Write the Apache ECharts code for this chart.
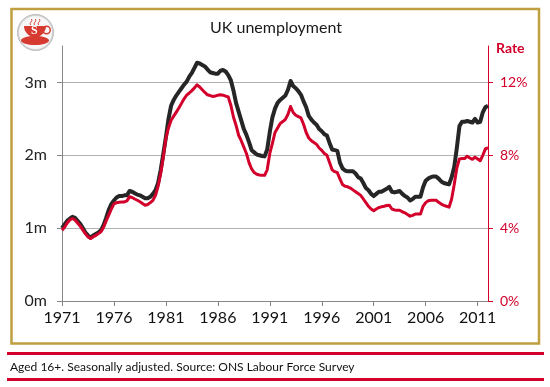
<!DOCTYPE html>
<html>
<head>
<meta charset="utf-8">
<title>UK unemployment</title>
<script src="https://cdn.jsdelivr.net/npm/echarts@6/dist/echarts.min.js"></script>
<style>
    html, body { margin: 0; padding: 0; background: #fff; }
    #chart { width: 550px; height: 387px; }
</style>
</head>
<body>
<div id="chart"></div>
<script>
// quarterly, one row per year, last value is the start of 2012
var unemployed = [
    1.00, 1.05, 1.10, 1.13,
    1.155, 1.14, 1.10, 1.06,
    1.00, 0.94, 0.90, 0.87,
    0.90, 0.92, 0.94, 0.97,
    1.04, 1.14, 1.25, 1.33,
    1.38, 1.42, 1.44, 1.44,
    1.45, 1.45, 1.51, 1.50,
    1.48, 1.46, 1.45, 1.43,
    1.41, 1.41, 1.43, 1.47,
    1.52, 1.62, 1.80, 2.02,
    2.25, 2.50, 2.68, 2.76,
    2.82, 2.87, 2.92, 2.97,
    3.01, 3.08, 3.13, 3.20,
    3.27, 3.26, 3.24, 3.22,
    3.18, 3.14, 3.13, 3.12,
    3.12, 3.16, 3.17, 3.15,
    3.10, 3.03, 2.89, 2.72,
    2.60, 2.48, 2.36, 2.28,
    2.18, 2.07, 2.04, 2.01,
    2.00, 1.99, 1.985, 2.08,
    2.32, 2.52, 2.64, 2.72,
    2.76, 2.79, 2.82, 2.90,
    3.02, 2.95, 2.92, 2.88,
    2.83, 2.74, 2.66, 2.54,
    2.49, 2.45, 2.42, 2.36,
    2.33, 2.29, 2.27, 2.17,
    2.08, 2.07, 2.06, 1.90,
    1.82, 1.79, 1.78, 1.78,
    1.78, 1.75, 1.70, 1.68,
    1.62, 1.55, 1.52, 1.47,
    1.44, 1.47, 1.50, 1.50,
    1.52, 1.54, 1.565, 1.50,
    1.49, 1.50, 1.51, 1.47,
    1.44, 1.42, 1.38, 1.40,
    1.43, 1.43, 1.43, 1.56,
    1.65, 1.68, 1.70, 1.71,
    1.71, 1.68, 1.64, 1.62,
    1.61, 1.60, 1.70, 1.84,
    2.10, 2.40, 2.46, 2.46,
    2.47, 2.46, 2.45, 2.50,
    2.45, 2.46, 2.59, 2.66,
    2.68
];
var rate = [
    3.89, 4.05, 4.28, 4.45,
    4.53, 4.45, 4.28, 4.11,
    3.90, 3.70, 3.52, 3.43,
    3.52, 3.60, 3.70, 3.80,
    4.05, 4.40, 4.71, 5.05,
    5.33, 5.40, 5.42, 5.43,
    5.44, 5.50, 5.72, 5.68,
    5.60, 5.53, 5.45, 5.35,
    5.26, 5.30, 5.40, 5.53,
    5.80, 6.30, 7.00, 7.90,
    8.93, 9.50, 9.92, 10.15,
    10.37, 10.60, 10.85, 11.10,
    11.30, 11.42, 11.55, 11.70,
    11.87, 11.75, 11.60, 11.45,
    11.32, 11.28, 11.23, 11.25,
    11.30, 11.32, 11.30, 11.25,
    11.20, 10.75, 10.10, 9.65,
    9.10, 8.80, 8.45, 8.10,
    7.60, 7.25, 7.05, 6.96,
    6.92, 6.90, 6.90, 7.20,
    8.10, 8.66, 9.25, 9.50,
    9.75, 9.85, 9.97, 10.25,
    10.68, 10.35, 10.20, 10.12,
    10.05, 9.70, 9.25, 8.95,
    8.80, 8.70, 8.60, 8.40,
    8.27, 8.10, 8.00, 7.60,
    7.20, 7.10, 7.05, 6.70,
    6.39, 6.30, 6.27, 6.20,
    6.10, 6.00, 5.90, 5.80,
    5.60, 5.40, 5.20, 5.05,
    4.95, 5.05, 5.13, 5.17,
    5.20, 5.24, 5.26, 5.05,
    5.00, 4.98, 4.98, 4.90,
    4.84, 4.75, 4.66, 4.70,
    4.77, 4.77, 4.77, 5.20,
    5.40, 5.50, 5.53, 5.53,
    5.53, 5.42, 5.32, 5.25,
    5.20, 5.15, 5.60, 6.40,
    7.30, 7.80, 7.82, 7.82,
    7.95, 7.85, 7.78, 7.90,
    7.80, 7.70, 8.00, 8.35,
    8.42
];
var startYear = 1971;
var countTicks = [0, 1, 2, 3];
var rateTicks = [0, 4, 8, 12];
var chartTitle = 'UK unemployment';
var rateTitle = 'Rate';
var footNote = 'Aged 16+. Seasonally adjusted. Source: ONS Labour Force Survey';

var quarters = [];
for (var i = 0; i < unemployed.length; i++) {
    quarters.push((startYear + Math.floor(i / 4)) + ' Q' + (i % 4 + 1));
}

var RED = '#d2002a';
var CUP = '#d63a30';
var GOLD = '#bf9f3f';
var FONT = 'Lato';

function steam(x) {
    return {
        type: 'bezierCurve',
        shape: {x1: x, y1: 25, x2: x, y2: 19, cpx1: x - 3, cpy1: 23, cpx2: x + 3, cpy2: 21},
        style: {fill: 'none', stroke: CUP, lineWidth: 1}
    };
}

var myChart = echarts.init(document.getElementById('chart'), null, {renderer: 'canvas'});
var option = {
    animation: false,
    backgroundColor: '#fff',
    textStyle: {fontFamily: FONT},
    title: {
        text: chartTitle,
        left: 271,
        top: 15,
        textAlign: 'center',
        textStyle: {fontFamily: FONT, fontSize: 16, fontWeight: 'normal', color: '#1a1a1a'}
    },
    grid: {left: 62, right: 62, top: 46, bottom: 86},
    xAxis: {
        type: 'category',
        data: quarters,
        boundaryGap: false,
        axisLine: {lineStyle: {color: '#868686', width: 1}},
        axisTick: {interval: 19, length: 5, lineStyle: {color: '#868686'}},
        axisLabel: {
            interval: 19,
            margin: 9,
            fontFamily: FONT,
            fontSize: 16,
            color: '#111',
            formatter: function (value) { return value.slice(0, 4); }
        },
        splitLine: {show: false}
    },
    yAxis: [
        {
            type: 'value',
            min: 0,
            max: 3.5,
            interval: 0.5,
            axisLine: {show: true, lineStyle: {color: '#868686', width: 1}},
            axisTick: {show: true, customValues: countTicks, length: 5, lineStyle: {color: '#868686'}},
            axisLabel: {
                customValues: countTicks,
                margin: 15,
                fontFamily: FONT,
                fontSize: 16,
                color: '#222',
                formatter: '{value}m'
            },
            splitLine: {show: true, lineStyle: {color: '#b2b2b2', width: 1}}
        },
        {
            type: 'value',
            min: 0,
            max: 14,
            interval: 2,
            position: 'right',
            name: rateTitle,
            nameGap: -2,
            nameTextStyle: {
                color: RED,
                fontFamily: FONT,
                fontSize: 14,
                fontWeight: 'bold',
                align: 'left',
                verticalAlign: 'middle',
                padding: [0, 0, 0, 8]
            },
            axisLine: {show: true, lineStyle: {color: RED, width: 1}},
            axisTick: {show: true, customValues: rateTicks, length: 5, lineStyle: {color: RED}},
            axisLabel: {
                customValues: rateTicks,
                margin: 12,
                fontFamily: FONT,
                fontSize: 14,
                color: RED,
                formatter: '{value}%'
            },
            splitLine: {show: false}
        }
    ],
    series: [
        {
            name: 'Unemployed',
            type: 'line',
            yAxisIndex: 0,
            data: unemployed,
            showSymbol: false,
            lineStyle: {color: '#262626', width: 4, join: 'round'}
        },
        {
            name: 'Rate',
            type: 'line',
            yAxisIndex: 1,
            data: rate,
            showSymbol: false,
            lineStyle: {color: RED, width: 3, join: 'round'}
        }
    ],
    graphic: [
        // gold frame
        {type: 'rect', shape: {x: 11.5, y: 9, width: 527.5, height: 334.5}, style: {fill: 'none', stroke: GOLD, lineWidth: 2.5}},
        // footer rules and note
        {type: 'rect', shape: {x: 7, y: 352, width: 537, height: 3}, style: {fill: RED}},
        {type: 'rect', shape: {x: 7, y: 378, width: 537, height: 3}, style: {fill: RED}},
        {type: 'text', x: 10, y: 361, style: {text: footNote, fontFamily: FONT, fontSize: 12, fill: '#111'}},
        // teacup badge
        {type: 'circle', shape: {cx: 35.5, cy: 32.5, r: 18}, style: {fill: '#d4d4d4', stroke: '#bdbdbd', lineWidth: 1}},
        {type: 'circle', shape: {cx: 35.5, cy: 32.5, r: 16.5}, style: {fill: '#f7f7f7'}},
        {type: 'ellipse', shape: {cx: 35, cy: 40.5, rx: 14, ry: 4.5}, style: {fill: CUP}},
        {type: 'sector', shape: {cx: 35, cy: 26, r: 11, r0: 0, startAngle: 0, endAngle: Math.PI, clockwise: true}, style: {fill: CUP}},
        {type: 'ring', shape: {cx: 46.5, cy: 30, r: 4.5, r0: 3}, style: {fill: CUP}},
        steam(31),
        steam(35),
        steam(39),
        {type: 'text', x: 31, y: 25, style: {text: 'S', fontFamily: 'Liberation Serif', fontSize: 12, fontWeight: 'bold', fill: '#fff'}}
    ]
};
myChart.setOption(option);
</script>
</body>
</html>
